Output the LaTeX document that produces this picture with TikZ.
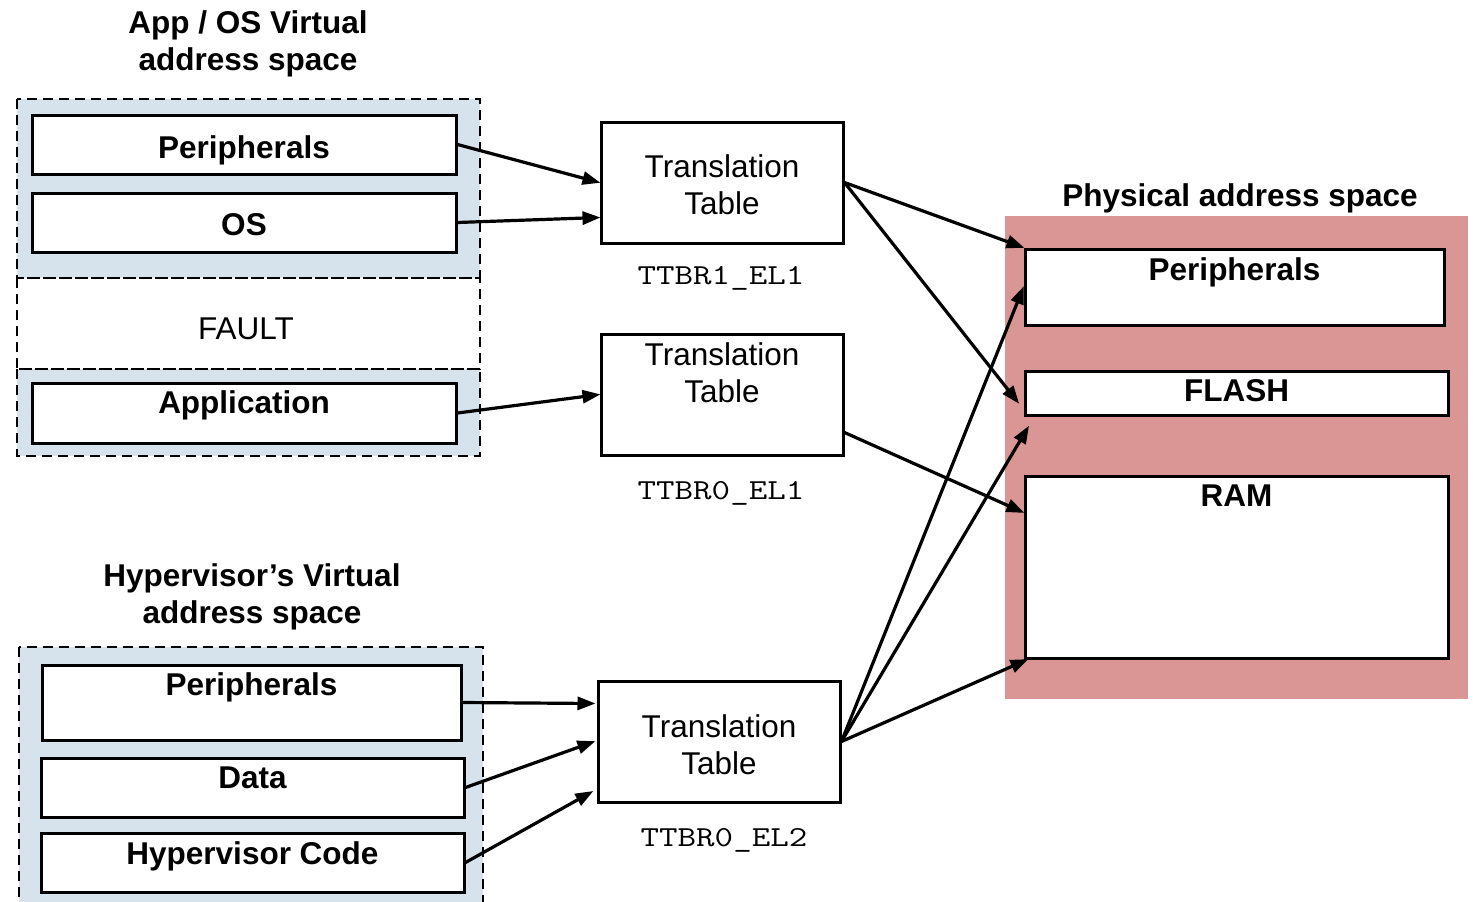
\documentclass[tikz,border=0pt]{standalone}
\usepackage{fontspec}
\usepackage{graphicx}
\setmainfont{Liberation Sans}
\usetikzlibrary{arrows.meta,calc}
\definecolor{vablue}{RGB}{214,227,236}
\definecolor{pared}{RGB}{217,150,148}
\newcommand{\regname}[1]{\scalebox{1.24}[1]{#1}}
\tikzset{
  box/.style={draw=black, line width=3pt, fill=white, inner sep=0pt, minimum width=#1},
  region/.style={draw=black, line width=2.6pt, dash pattern=on 10pt off 6pt},
  bold/.style={font=\fontsize{31.5}{37}\selectfont\bfseries, inner sep=0pt, align=center},
  plain/.style={font=\fontsize{31.5}{37}\selectfont, inner sep=0pt, align=center},
  code/.style={font=\fontsize{29}{37}\selectfont\ttfamily, inner sep=0pt},
  arr/.style={line width=3.2pt, -{Triangle[length=18pt,width=13pt]}, shorten >=-1pt},
}
\begin{document}
\begin{tikzpicture}[x=1pt,y=-1pt]
\useasboundingbox (0,0) rectangle (1473,902);
\clip (0,0) rectangle (1473,902);

% ---------- App / OS virtual address space ----------
% multi-line nodes: the base anchor sits on the last line
\node[bold, anchor=base] (apptitle) at (248,70) {App / OS Virtual\\address space};
\fill[vablue] (17,99) rectangle (480,278);
\fill[vablue] (17,369) rectangle (480,456);
\draw[region] (17,99) rectangle (480,278);
\draw[region] (17,278) rectangle (480,369);
\draw[region] (17,369) rectangle (480,456);

\node[box=424pt, minimum height=59pt] (vper) at (244,144.5) {};
\node[bold, anchor=base] (vperT) at ([yshift=-45pt]vper.north) {Peripherals};
\node[box=424pt, minimum height=59pt] (vos) at (244,222.5) {};
\node[bold, anchor=base] (vosT) at ([yshift=-44pt]vos.north) {OS};
\node[plain, anchor=base] (fault) at (246,339) {FAULT};
\node[box=424pt, minimum height=60pt] (vapp) at (244,413) {};
\node[bold, anchor=base] (vappT) at ([yshift=-32pt]vapp.north) {Application};

% ---------- Translation tables ----------
\node[box=242pt, minimum height=121pt] (tt1) at (722,182.5) {};
\node[plain, anchor=base] (tt1T) at ([yshift=-94pt]tt1.north) {Translation\\Table};
\node[code, anchor=base] (ttbr1) at (721,284) {\regname{TTBR1\_EL1}};

\node[box=242pt, minimum height=121pt] (tt2) at (722,394.5) {};
\node[plain, anchor=base] (tt2T) at ([yshift=-70pt]tt2.north) {Translation\\Table};
\node[code, anchor=base] (ttbr0) at (721,499) {\regname{TTBR0\_EL1}};

\node[box=242pt, minimum height=121pt] (tt3) at (719,741.5) {};
\node[plain, anchor=base] (tt3T) at ([yshift=-95pt]tt3.north) {Translation\\Table};
\node[code, anchor=base] (ttbr2) at (724,846) {\regname{TTBR0\_EL2}};

% ---------- Physical address space ----------
\node[bold, anchor=base] (phystitle) at (1240,206) {Physical address space};
\fill[pared] (1005,216) rectangle (1468,699);
\node[box=419pt, minimum height=76pt] (pper) at (1234.5,287) {};
\node[bold, anchor=base] (pperT) at ([yshift=-33pt]pper.north) {Peripherals};
\node[box=423pt, minimum height=44pt] (flash) at (1236.5,393) {};
\node[bold, anchor=base] (flashT) at ([yshift=-32pt]flash.north) {FLASH};
\node[box=423pt, minimum height=182pt] (ram) at (1236.5,567) {};
\node[bold, anchor=base] (ramT) at ([yshift=-32pt]ram.north) {RAM};

% ---------- Hypervisor's virtual address space ----------
\node[bold, anchor=base] (hyptitle) at (252,623) {Hypervisor’s Virtual\\address space};
\fill[vablue] (19,647) rectangle (483,920);
\draw[region] (19,647) rectangle (483,920);
\node[box=419pt, minimum height=75pt] (hper) at (251.5,702.5) {};
\node[bold, anchor=base] (hperT) at ([yshift=-32pt]hper.north) {Peripherals};
\node[box=423pt, minimum height=59pt] (hdata) at (252.5,787.5) {};
\node[bold, anchor=base] (hdataT) at ([yshift=-32pt]hdata.north) {Data};
\node[box=423pt, minimum height=59pt] (hcode) at (252.5,862.5) {};
\node[bold, anchor=base] (hcodeT) at ([yshift=-33pt]hcode.north) {Hypervisor Code};

% ---------- Mappings ----------
\draw[arr] (vper.east) -- (tt1.west);
\draw[arr] (vos.east) -- ([yshift=-35pt]tt1.west);
\draw[arr] (vapp.east) -- (tt2.west);

\draw[arr] (tt1.east) -- (pper.north west);
\draw[arr] (tt1.east) -- ([xshift=-5pt,yshift=-10pt]flash.west);
\draw[arr] ([yshift=-38pt]tt2.east) -- ([yshift=-38pt]ram.north west);

\draw[arr] (tt3.east) -- (pper.west);
\draw[arr] (tt3.east) -- ([xshift=5pt,yshift=-10pt]flash.south west);
\draw[arr] (tt3.east) -- ([xshift=4pt]ram.south west);

\draw[arr] (hper.east) -- ([xshift=-2pt,yshift=38pt]tt3.west);
\draw[arr] (hdata.east) -- ([xshift=-2pt]tt3.west);
\draw[arr] (hcode.east) -- ([xshift=-4pt,yshift=-50pt]tt3.west);
\end{tikzpicture}
\end{document}
